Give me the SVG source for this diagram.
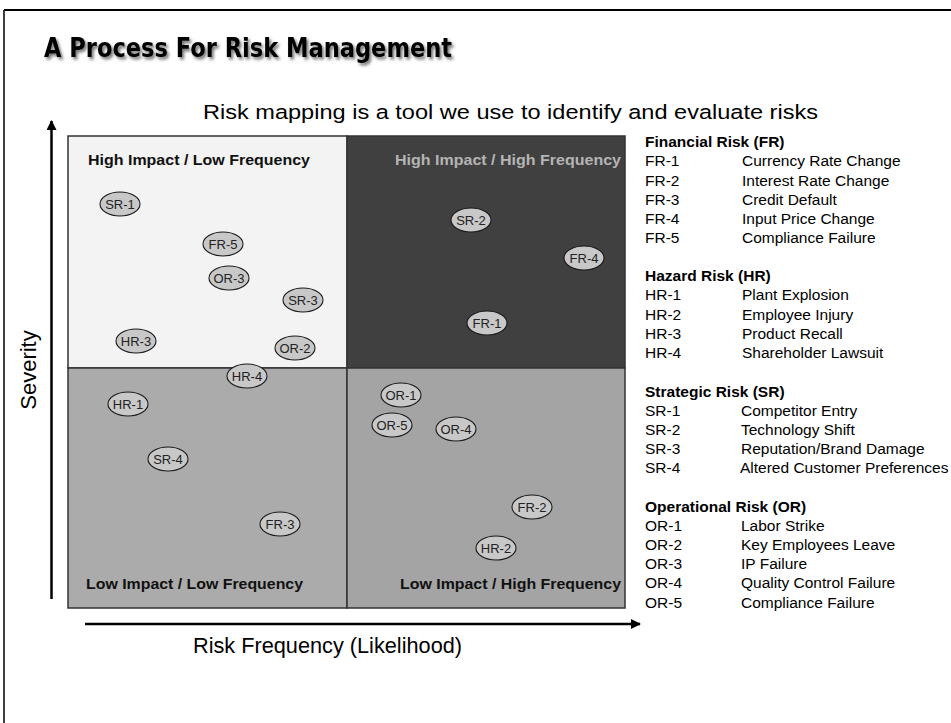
<svg xmlns="http://www.w3.org/2000/svg" width="951" height="723" viewBox="0 0 951 723">
  <style>
    .title { font-family: "DejaVu Sans", Verdana, sans-serif; font-weight: bold; font-size: 27px; fill: #000; }
    .sub { font-family: "Liberation Sans", Arial, sans-serif; font-size: 20.5px; fill: #000; }
    .axis-label { font-family: "Liberation Sans", Arial, sans-serif; font-size: 22px; fill: #000; }
    .quad-label { font-family: "Liberation Sans", Arial, sans-serif; font-weight: bold; font-size: 15px; fill: #111; }
    .quad-label.light { fill: #b4b4b4; }
    .quad { stroke: #333; stroke-width: 1.5; }
    .risk ellipse { fill: #c8c8c8; stroke: #1a1a1a; stroke-width: 1.1; }
    .risk text { font-family: "Liberation Sans", Arial, sans-serif; font-size: 13px; fill: #222; text-anchor: middle; }
    .leg-head { font-family: "Liberation Sans", Arial, sans-serif; font-weight: bold; font-size: 15.5px; fill: #000; }
    .leg { font-family: "Liberation Sans", Arial, sans-serif; font-size: 15.5px; fill: #000; }
    .axis { stroke: #000; stroke-width: 2.5; fill: none; }
  </style>
  <defs>
    <filter id="shadow" x="-5%" y="-20%" width="110%" height="150%">
      <feDropShadow dx="2" dy="2.5" stdDeviation="1.5" flood-color="#000" flood-opacity="0.55"/>
    </filter>
    <marker id="arrow" viewBox="0 0 10 10" refX="9" refY="5" markerWidth="4" markerHeight="4" orient="auto" markerUnits="strokeWidth">
      <path d="M0,0 L10,5 L0,10 z" fill="#000"/>
    </marker>
  </defs>

  <rect width="951" height="723" fill="#fff"/>
  <!-- slide frame -->
  <line x1="4" y1="10" x2="951" y2="10" stroke="#000" stroke-width="2"/>
  <line x1="4" y1="10" x2="4" y2="723" stroke="#000" stroke-width="1.5"/>

  <text class="title" x="44" y="57" textLength="408" lengthAdjust="spacingAndGlyphs" filter="url(#shadow)">A Process For Risk Management</text>
  <text class="sub" x="203" y="119" textLength="615" lengthAdjust="spacingAndGlyphs">Risk mapping is a tool we use to identify and evaluate risks</text>

  <!-- quadrants -->
  <g id="quadrants">
    <rect id="q-hl" class="quad" x="68" y="136" width="279" height="232" fill="#f3f3f3"/>
    <rect id="q-hh" class="quad" x="347" y="136" width="278" height="232" fill="#404040"/>
    <rect id="q-ll" class="quad" x="68" y="368" width="279" height="240" fill="#ababab"/>
    <rect id="q-lh" class="quad" x="347" y="368" width="278" height="240" fill="#a4a4a4"/>
    <text class="quad-label" x="88" y="165" textLength="222" lengthAdjust="spacingAndGlyphs">High Impact / Low Frequency</text>
    <text class="quad-label light" x="395" y="165" textLength="226" lengthAdjust="spacingAndGlyphs">High Impact / High Frequency</text>
    <text class="quad-label" x="86" y="589" textLength="217" lengthAdjust="spacingAndGlyphs">Low Impact / Low Frequency</text>
    <text class="quad-label" x="400" y="589" textLength="221" lengthAdjust="spacingAndGlyphs">Low Impact / High Frequency</text>
  </g>

  <!-- axes -->
  <g id="connectors">
    <line class="axis" x1="51.5" y1="599" x2="51.5" y2="121" marker-end="url(#arrow)"/>
    <line class="axis" x1="85" y1="624" x2="640" y2="624" marker-end="url(#arrow)"/>
  </g>
  <text class="axis-label" x="0" y="0" transform="translate(36,370) rotate(-90)" text-anchor="middle">Severity</text>
  <text class="axis-label" x="193" y="653" textLength="269" lengthAdjust="spacingAndGlyphs">Risk Frequency (Likelihood)</text>

  <!-- risk markers -->
  <g id="SR-1" class="risk"><ellipse cx="120" cy="204" rx="20" ry="12"/><text x="120" y="208.5">SR-1</text></g>
  <g id="FR-5" class="risk"><ellipse cx="223" cy="244" rx="20" ry="12"/><text x="223" y="248.5">FR-5</text></g>
  <g id="OR-3" class="risk"><ellipse cx="229" cy="278" rx="20" ry="12"/><text x="229" y="282.5">OR-3</text></g>
  <g id="SR-3" class="risk"><ellipse cx="303" cy="300" rx="20" ry="12"/><text x="303" y="304.5">SR-3</text></g>
  <g id="HR-3" class="risk"><ellipse cx="136" cy="341" rx="20" ry="12"/><text x="136" y="345.5">HR-3</text></g>
  <g id="OR-2" class="risk"><ellipse cx="295" cy="348" rx="20" ry="12"/><text x="295" y="352.5">OR-2</text></g>
  <g id="HR-4" class="risk"><ellipse cx="247" cy="376" rx="20" ry="12"/><text x="247" y="380.5">HR-4</text></g>
  <g id="HR-1" class="risk"><ellipse cx="128" cy="404" rx="20" ry="12"/><text x="128" y="408.5">HR-1</text></g>
  <g id="SR-4" class="risk"><ellipse cx="168" cy="459" rx="20" ry="12"/><text x="168" y="463.5">SR-4</text></g>
  <g id="FR-3" class="risk"><ellipse cx="280" cy="524" rx="20" ry="12"/><text x="280" y="528.5">FR-3</text></g>
  <g id="SR-2" class="risk"><ellipse cx="471" cy="220" rx="20" ry="12"/><text x="471" y="224.5">SR-2</text></g>
  <g id="FR-4" class="risk"><ellipse cx="584" cy="258" rx="20" ry="12"/><text x="584" y="262.5">FR-4</text></g>
  <g id="FR-1" class="risk"><ellipse cx="487" cy="323" rx="20" ry="12"/><text x="487" y="327.5">FR-1</text></g>
  <g id="OR-1" class="risk"><ellipse cx="401" cy="395" rx="20" ry="12"/><text x="401" y="399.5">OR-1</text></g>
  <g id="OR-5" class="risk"><ellipse cx="392" cy="425" rx="20" ry="12"/><text x="392" y="429.5">OR-5</text></g>
  <g id="OR-4" class="risk"><ellipse cx="456" cy="429" rx="20" ry="12"/><text x="456" y="433.5">OR-4</text></g>
  <g id="FR-2" class="risk"><ellipse cx="532" cy="507" rx="20" ry="12"/><text x="532" y="511.5">FR-2</text></g>
  <g id="HR-2" class="risk"><ellipse cx="496" cy="548" rx="20" ry="12"/><text x="496" y="552.5">HR-2</text></g>

  <!-- legend -->
  <g id="legend">
    <text class="leg-head" x="645" y="147">Financial Risk (FR)</text>
    <text class="leg" x="645" y="166">FR-1</text><text class="leg" x="742" y="166">Currency Rate Change</text>
    <text class="leg" x="645" y="186">FR-2</text><text class="leg" x="742" y="186">Interest Rate Change</text>
    <text class="leg" x="645" y="205">FR-3</text><text class="leg" x="742" y="205">Credit Default</text>
    <text class="leg" x="645" y="224">FR-4</text><text class="leg" x="742" y="224">Input Price Change</text>
    <text class="leg" x="645" y="243">FR-5</text><text class="leg" x="742" y="243">Compliance Failure</text>

    <text class="leg-head" x="645" y="281">Hazard Risk (HR)</text>
    <text class="leg" x="645" y="300">HR-1</text><text class="leg" x="742" y="300">Plant Explosion</text>
    <text class="leg" x="645" y="320">HR-2</text><text class="leg" x="742" y="320">Employee Injury</text>
    <text class="leg" x="645" y="339">HR-3</text><text class="leg" x="742" y="339">Product Recall</text>
    <text class="leg" x="645" y="358">HR-4</text><text class="leg" x="742" y="358">Shareholder Lawsuit</text>

    <text class="leg-head" x="645" y="397">Strategic Risk (SR)</text>
    <text class="leg" x="645" y="416">SR-1</text><text class="leg" x="741" y="416">Competitor Entry</text>
    <text class="leg" x="645" y="435">SR-2</text><text class="leg" x="741" y="435">Technology Shift</text>
    <text class="leg" x="645" y="454">SR-3</text><text class="leg" x="741" y="454">Reputation/Brand Damage</text>
    <text class="leg" x="645" y="473">SR-4</text><text class="leg" x="740" y="473">Altered Customer Preferences</text>

    <text class="leg-head" x="645" y="512">Operational Risk (OR)</text>
    <text class="leg" x="645" y="531">OR-1</text><text class="leg" x="741" y="531">Labor Strike</text>
    <text class="leg" x="645" y="550">OR-2</text><text class="leg" x="741" y="550">Key Employees Leave</text>
    <text class="leg" x="645" y="569">OR-3</text><text class="leg" x="741" y="569">IP Failure</text>
    <text class="leg" x="645" y="588">OR-4</text><text class="leg" x="741" y="588">Quality Control Failure</text>
    <text class="leg" x="645" y="608">OR-5</text><text class="leg" x="741" y="608">Compliance Failure</text>
  </g>
</svg>
